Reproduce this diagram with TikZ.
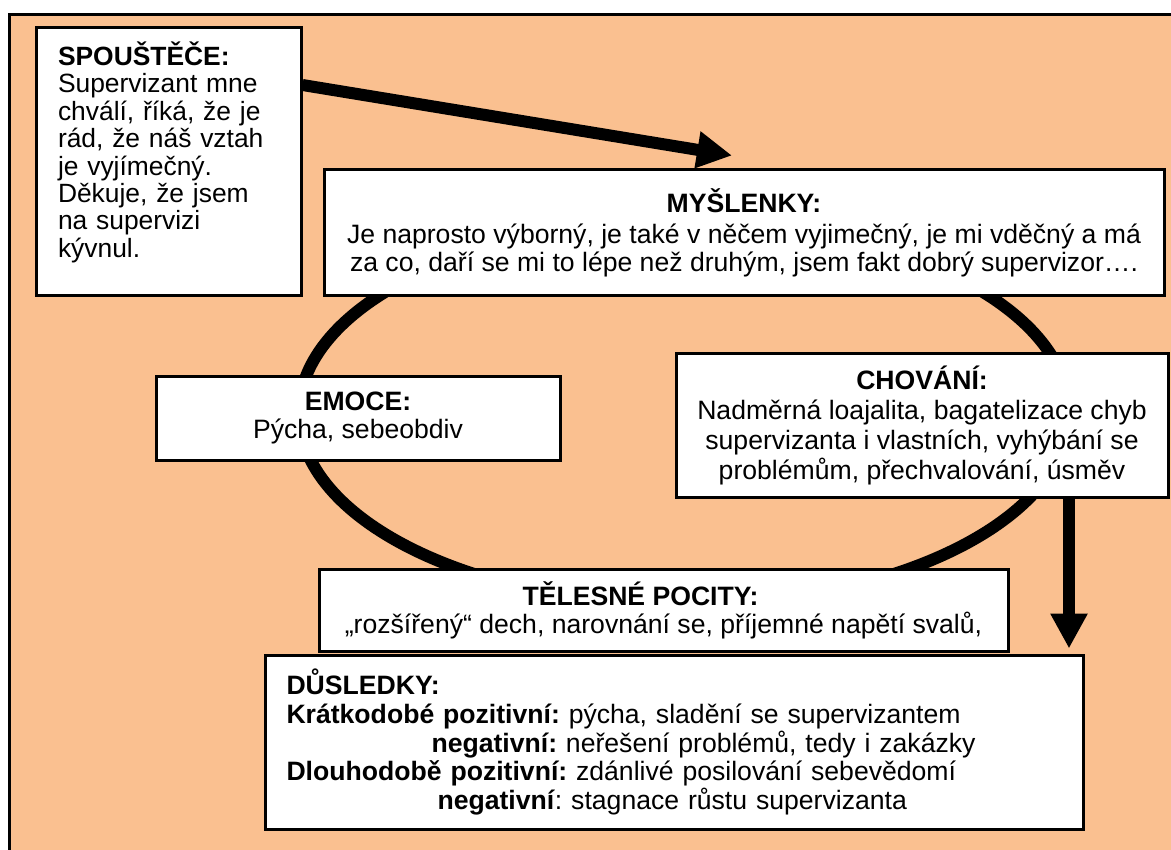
\documentclass[tikz,border=0pt]{standalone}
\usepackage{fontspec}
\setmainfont{Liberation Sans}
\usepackage{tikz}
\usetikzlibrary{arrows.meta, calc}
\definecolor{peach}{HTML}{FAC090}
\frenchspacing

\begin{document}
\begin{tikzpicture}[
    x=0.5pt, y=-0.5pt,
    box/.style={draw=black, line width=1.5pt, fill=white, inner sep=0pt,
        font=\fontsize{13.3}{14}\selectfont},
    arr/.style={-{Triangle[length=17.5pt, width=17.5pt]}, line width=6pt},
    cycle/.style={line width=6pt}
]

    \useasboundingbox (0,0) rectangle (1171,850);
    \clip (0,0) rectangle (1171,850);

    % Background frame
    \draw[fill=peach, line width=1.5pt] (9.5,14.5) rectangle (1190,870);

    % Cycle behind the boxes
    \draw[cycle] (684,413) ellipse [x radius=385, y radius=192];

    % Triggers
    \node[box, align=left, text width=110.5pt, inner xsep=11pt,
        minimum width=132.5pt, minimum height=133.5pt,
        font=\fontsize{13.2}{13.7}\selectfont] (spoust) at (168.5,161.5)
        {\textbf{SPOUŠTĚČE:}\\Supervizant mne\\chválí, říká, že je\\rád, že náš vztah\\je vyjímečný.\\Děkuje, že jsem\\na supervizi\\kývnul.\rule[-12pt]{0pt}{12pt}};

    % Thoughts
    \node[box, align=center, minimum width=420pt, minimum height=62.5pt] (mysl) at (744,232.5)
        {\textbf{MYŠLENKY:}\\[1.5pt]Je naprosto výborný, je také v něčem vyjimečný, je mi vděčný a má\\za co, daří se mi to lépe než druhým, jsem fakt dobrý supervizor….};

    % Emotions
    \node[box, align=center, minimum width=202pt, minimum height=42pt] (emoce) at (358,418)
        {\textbf{EMOCE:}\\Pýcha, sebeobdiv};

    % Behaviour
    \node[box, align=center, minimum width=246pt, minimum height=72pt,
        font=\fontsize{13.3}{15}\selectfont] (chov) at (922,425)
        {\textbf{CHOVÁNÍ:}\\Nadměrná loajalita, bagatelizace chyb\\supervizanta i vlastních, vyhýbání se\\problémům, přechvalování, úsměv};

    % Body sensations
    \node[box, align=center, minimum width=344.5pt, minimum height=41pt] (teles) at (663.5,610)
        {\textbf{TĚLESNÉ POCITY:}\hspace*{23pt}\\„rozšířený“ dech, narovnání se, příjemné napětí svalů,};

    % Consequences
    \node[box, align=left, text width=388pt, inner xsep=10.5pt,
        minimum width=408.5pt, minimum height=87pt,
        font=\fontsize{13.3}{14.4}\selectfont] (dusl) at (674.5,742)
        {\textbf{DŮSLEDKY:}\\
         \textbf{Krátkodobé pozitivní:} pýcha, sladění se supervizantem\\
         \hspace*{72.5pt}\textbf{negativní:} neřešení problémů, tedy i zakázky\\
         \textbf{Dlouhodobě pozitivní:} zdánlivé posilování sebevědomí\\
         \hspace*{75.5pt}\textbf{negativní}: stagnace růstu supervizanta};

    % Arrows
    \coordinate (drop) at (1069,0);
    \draw[arr] ([yshift=38.25pt]spoust.east) -- ($(mysl.north)+(-12,-13)$);
    \draw[arr] (chov.south -| drop) -- ($(dusl.north -| drop)+(0,-5)$);

\end{tikzpicture}
\end{document}
